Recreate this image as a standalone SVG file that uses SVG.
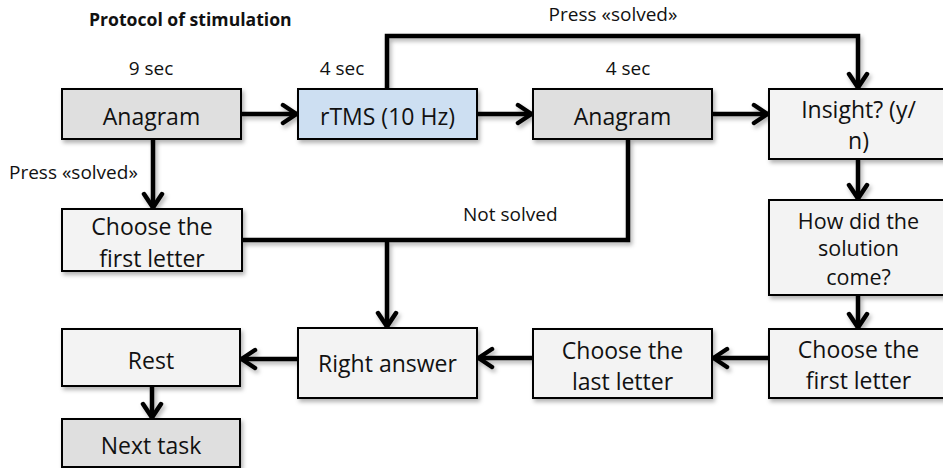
<svg xmlns="http://www.w3.org/2000/svg" width="943" height="468" viewBox="0 0 943 468">
<style>
.box{stroke:#000;stroke-width:2}
.grey{fill:#dfdfdf}
.light{fill:#f3f3f3}
.blue{fill:#cddff2}
.t{font-family:"Open Sans","Liberation Sans",sans-serif;font-size:23px;fill:#111;text-anchor:middle}
.t2{font-size:21.5px}
.lbl{font-family:"Open Sans","Liberation Sans",sans-serif;font-size:19px;fill:#111}
.title{font-family:"Open Sans","Liberation Sans",sans-serif;font-size:17.6px;font-weight:bold;fill:#111}
.c{fill:none;stroke:#000;stroke-width:4.5;stroke-linejoin:miter}
.a{marker-end:url(#arr)}
</style>
<defs>
<filter id="sh" x="-10%" y="-10%" width="130%" height="140%">
<feDropShadow dx="2" dy="3" stdDeviation="2" flood-color="#000" flood-opacity="0.3"/>
</filter>
<marker id="arr" markerUnits="userSpaceOnUse" viewBox="0 0 24 24" markerWidth="24" markerHeight="24" refX="20" refY="12" orient="auto">
<path d="M5,3 L18.5,12 L5,21" fill="none" stroke="#000" stroke-width="4.5" stroke-linecap="round" stroke-linejoin="round"/>
</marker>
</defs>

<text class="title" x="89" y="26">Protocol of stimulation</text>
<text class="lbl" x="151" y="75" text-anchor="middle">9 sec</text>
<text class="lbl" x="342" y="75" text-anchor="middle">4 sec</text>
<text class="lbl" x="628" y="75" text-anchor="middle">4 sec</text>
<text class="lbl" x="613" y="21" text-anchor="middle">Press «solved»</text>
<text class="lbl" x="9" y="179">Press «solved»</text>
<text class="lbl" x="463" y="221">Not solved</text>

<g id="connectors" filter="url(#sh)">
<path class="c a" d="M241,114 H298"/>
<path class="c a" d="M477,114 H533"/>
<path class="c a" d="M712,114 H769"/>
<path class="c a" d="M387,89 V36 H858 V89"/>
<path class="c a" d="M153,139 V209"/>
<path class="c a" d="M858,159 V200"/>
<path class="c a" d="M858,295 V329"/>
<path class="c a" d="M769,358 H712"/>
<path class="c a" d="M533,358 H477"/>
<path class="c a" d="M298,359 H240"/>
<path class="c a" d="M152,386 V419"/>
<path class="c" d="M628,139 V240 H242"/>
<path class="c a" d="M387,240 V328"/>
</g>

<g id="anagram1"><rect class="box grey" x="62" y="89" width="179" height="50" filter="url(#sh)"/><text class="t" x="151.5" y="125">Anagram</text></g>
<g id="rtms"><rect class="box blue" x="298" y="89" width="179" height="50" filter="url(#sh)"/><text class="t" x="387.5" y="125">rTMS (10 Hz)</text></g>
<g id="anagram2"><rect class="box grey" x="533" y="89" width="179" height="50" filter="url(#sh)"/><text class="t" x="622.5" y="125">Anagram</text></g>
<g id="insight"><rect class="box light" x="769" y="89" width="180" height="70" filter="url(#sh)"/><text class="t" x="858.5" y="118">Insight? (y/</text><text class="t" x="858.5" y="149">n)</text></g>
<g id="howdid"><rect class="box light" x="769" y="200" width="180" height="95" filter="url(#sh)"/><text class="t t2" x="858.5" y="229">How did the</text><text class="t t2" x="858.5" y="256">solution</text><text class="t t2" x="858.5" y="285">come?</text></g>
<g id="choosefirst1"><rect class="box light" x="62" y="209" width="180" height="62" filter="url(#sh)"/><text class="t" x="152" y="235">Choose the</text><text class="t" x="152" y="267">first letter</text></g>
<g id="choosefirst2"><rect class="box light" x="769" y="329" width="180" height="69" filter="url(#sh)"/><text class="t" x="858.5" y="358">Choose the</text><text class="t" x="858.5" y="389">first letter</text></g>
<g id="chooselast"><rect class="box light" x="533" y="329" width="179" height="69" filter="url(#sh)"/><text class="t" x="622.5" y="359">Choose the</text><text class="t" x="622.5" y="390">last letter</text></g>
<g id="rightanswer"><rect class="box light" x="298" y="328" width="179" height="70" filter="url(#sh)"/><text class="t" x="387.5" y="372">Right answer</text></g>
<g id="rest"><rect class="box light" x="62" y="329" width="178" height="57" filter="url(#sh)"/><text class="t" x="151" y="369">Rest</text></g>
<g id="nexttask"><rect class="box grey" x="62" y="419" width="178" height="48" filter="url(#sh)"/><text class="t" x="151" y="454">Next task</text></g>
</svg>
